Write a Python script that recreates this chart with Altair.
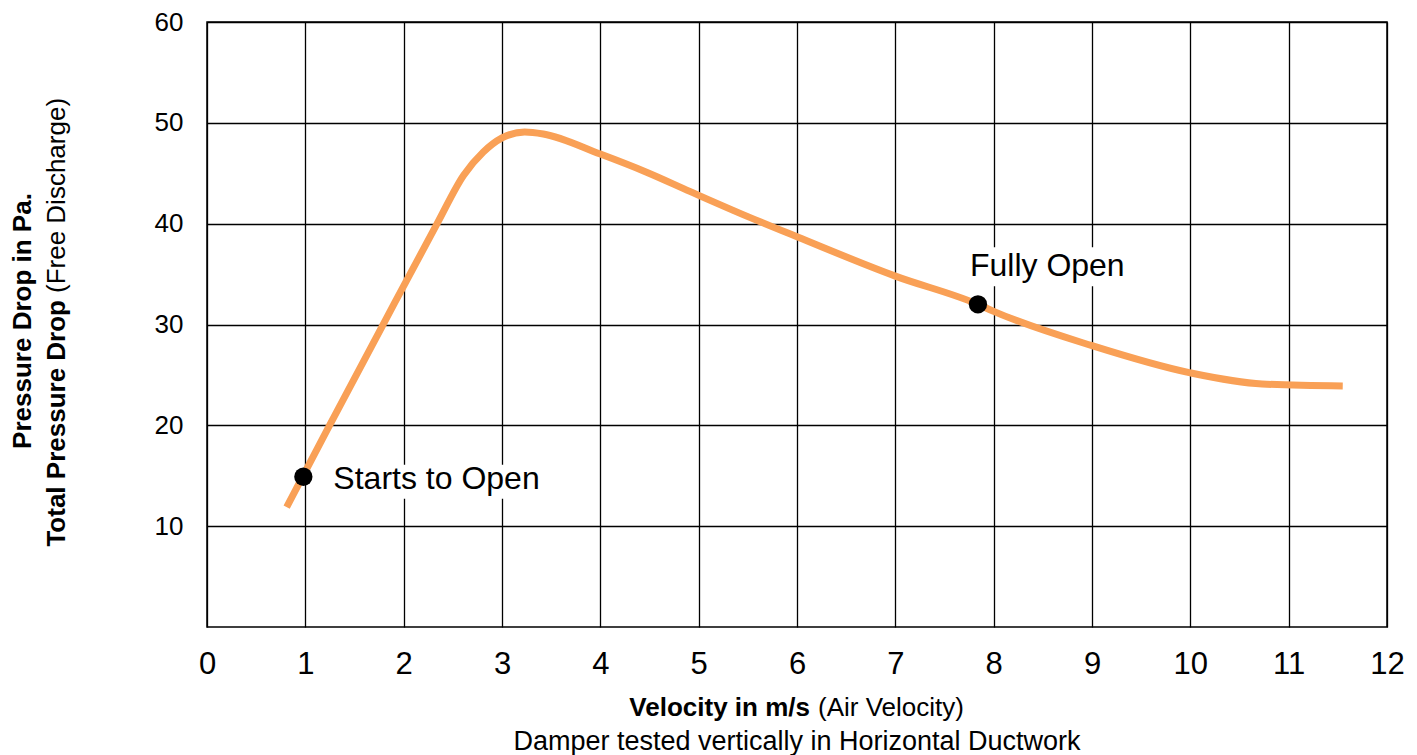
import altair as alt
import pandas as pd

# ---- data ----
velocity = [0.81, 1.23, 1.78, 2.34, 2.61, 2.81, 3.0, 3.23, 3.42, 4.0,
            4.47, 4.91, 5.5, 6.0, 7.0, 7.84, 8.0, 9.0, 10.0, 10.73, 11.55]
pressure = [11.9, 19.7, 29.8, 40.0, 44.8, 47.1, 48.5, 49.1, 48.9, 46.9,
            45.1, 43.2, 40.7, 38.7, 34.8, 32.0, 31.3, 27.9, 25.2, 24.1, 23.9]

marker_labels = ["Starts to Open", "Fully Open"]
marker_velocity = [0.98, 7.84]
marker_pressure = [14.9, 32.0]

x_ticks = list(range(0, 13))
y_ticks = [10, 20, 30, 40, 50, 60]

x_title_bold = "Velocity in m/s"
x_title_regular = "(Air Velocity)"
x_subtitle = "Damper tested vertically in Horizontal Ductwork"
y_title_line1 = "Pressure Drop in Pa."
y_title_line2_bold = "Total Pressure Drop"
y_title_line2_regular = "(Free Discharge)"

curve = pd.DataFrame({"v": velocity, "p": pressure})
markers = pd.DataFrame({"v": marker_velocity, "p": marker_pressure, "label": marker_labels})

FONT = "Liberation Sans"
W, H = 1180, 605

xscale = alt.Scale(domain=[0, 12], nice=False, zero=False)
yscale = alt.Scale(domain=[0, 60], nice=False, zero=False)

X = alt.X("v:Q", scale=xscale, axis=alt.Axis(
    values=x_ticks, title=None, grid=True, gridColor="black", gridWidth=1.3, gridOpacity=1,
    domain=False, ticks=False, labelFontSize=31, labelPadding=22, labelFont=FONT,
    labelColor="black", labelFlush=False, labelOverlap=False, format="d"))
Y = alt.Y("p:Q", scale=yscale, axis=alt.Axis(
    values=y_ticks, title=None, grid=True, gridColor="black", gridWidth=1.3, gridOpacity=1,
    domain=False, ticks=False, labelFontSize=26, labelPadding=24, labelFont=FONT,
    labelColor="black", labelFlush=False, labelOverlap=False, format="d"))

m0 = markers.iloc[[0]]
m1 = markers.iloc[[1]]

box0 = alt.Chart(m0).mark_rect(color="white", xOffset=23, x2Offset=246, yOffset=-12, y2Offset=22).encode(
    x=X, x2="v", y=Y, y2="p")
box1 = alt.Chart(m1).mark_rect(color="white", xOffset=-14, x2Offset=156, yOffset=-57, y2Offset=-18).encode(
    x=X, x2="v", y=Y, y2="p")

line = alt.Chart(curve).mark_line(color="#F9A056", strokeWidth=7, interpolate="monotone").encode(x=X, y=Y)

points = alt.Chart(markers).mark_circle(color="black", opacity=1, size=335).encode(x=X, y=Y)

lab0 = alt.Chart(m0).mark_text(align="left", baseline="alphabetic", dx=30, dy=12, fontSize=32,
                               font=FONT, color="black").encode(x=X, y=Y, text="label:N")
lab1 = alt.Chart(m1).mark_text(align="left", baseline="alphabetic", dx=-8, dy=-28, fontSize=32,
                               font=FONT, color="black").encode(x=X, y=Y, text="label:N")


def text_layer(s, x, y, size=26, **kw):
    return alt.Chart(pd.DataFrame({"t": [s]})).mark_text(font=FONT, color="black", fontSize=size, **kw).encode(
        x=alt.value(x), y=alt.value(y), text="t:N")


titles = [
    text_layer(x_title_bold, 603, 694, align="right", baseline="alphabetic", fontWeight="bold"),
    text_layer(x_title_regular, 611, 694, align="left", baseline="alphabetic"),
    text_layer(x_subtitle, 590, 728, size=27, align="center", baseline="alphabetic"),
    text_layer(y_title_line1, -176, 299, align="center", baseline="alphabetic", angle=270, fontWeight="bold"),
    text_layer(y_title_line2_bold, -142, 278, align="right", baseline="alphabetic", angle=270, fontWeight="bold"),
    text_layer(y_title_line2_regular, -142, 271, align="left", baseline="alphabetic", angle=270),
]

chart = alt.layer(box0, box1, line, points, lab0, lab1, *titles).properties(
    width=W, height=H,
    padding={"left": 199, "top": 14, "right": 20, "bottom": 128},
    autosize=alt.AutoSizeParams(type="none"),
    background="white",
).configure_view(stroke="black", strokeWidth=1.5)

chart.save("out.html", embed_options={"renderer": "svg", "actions": False})
